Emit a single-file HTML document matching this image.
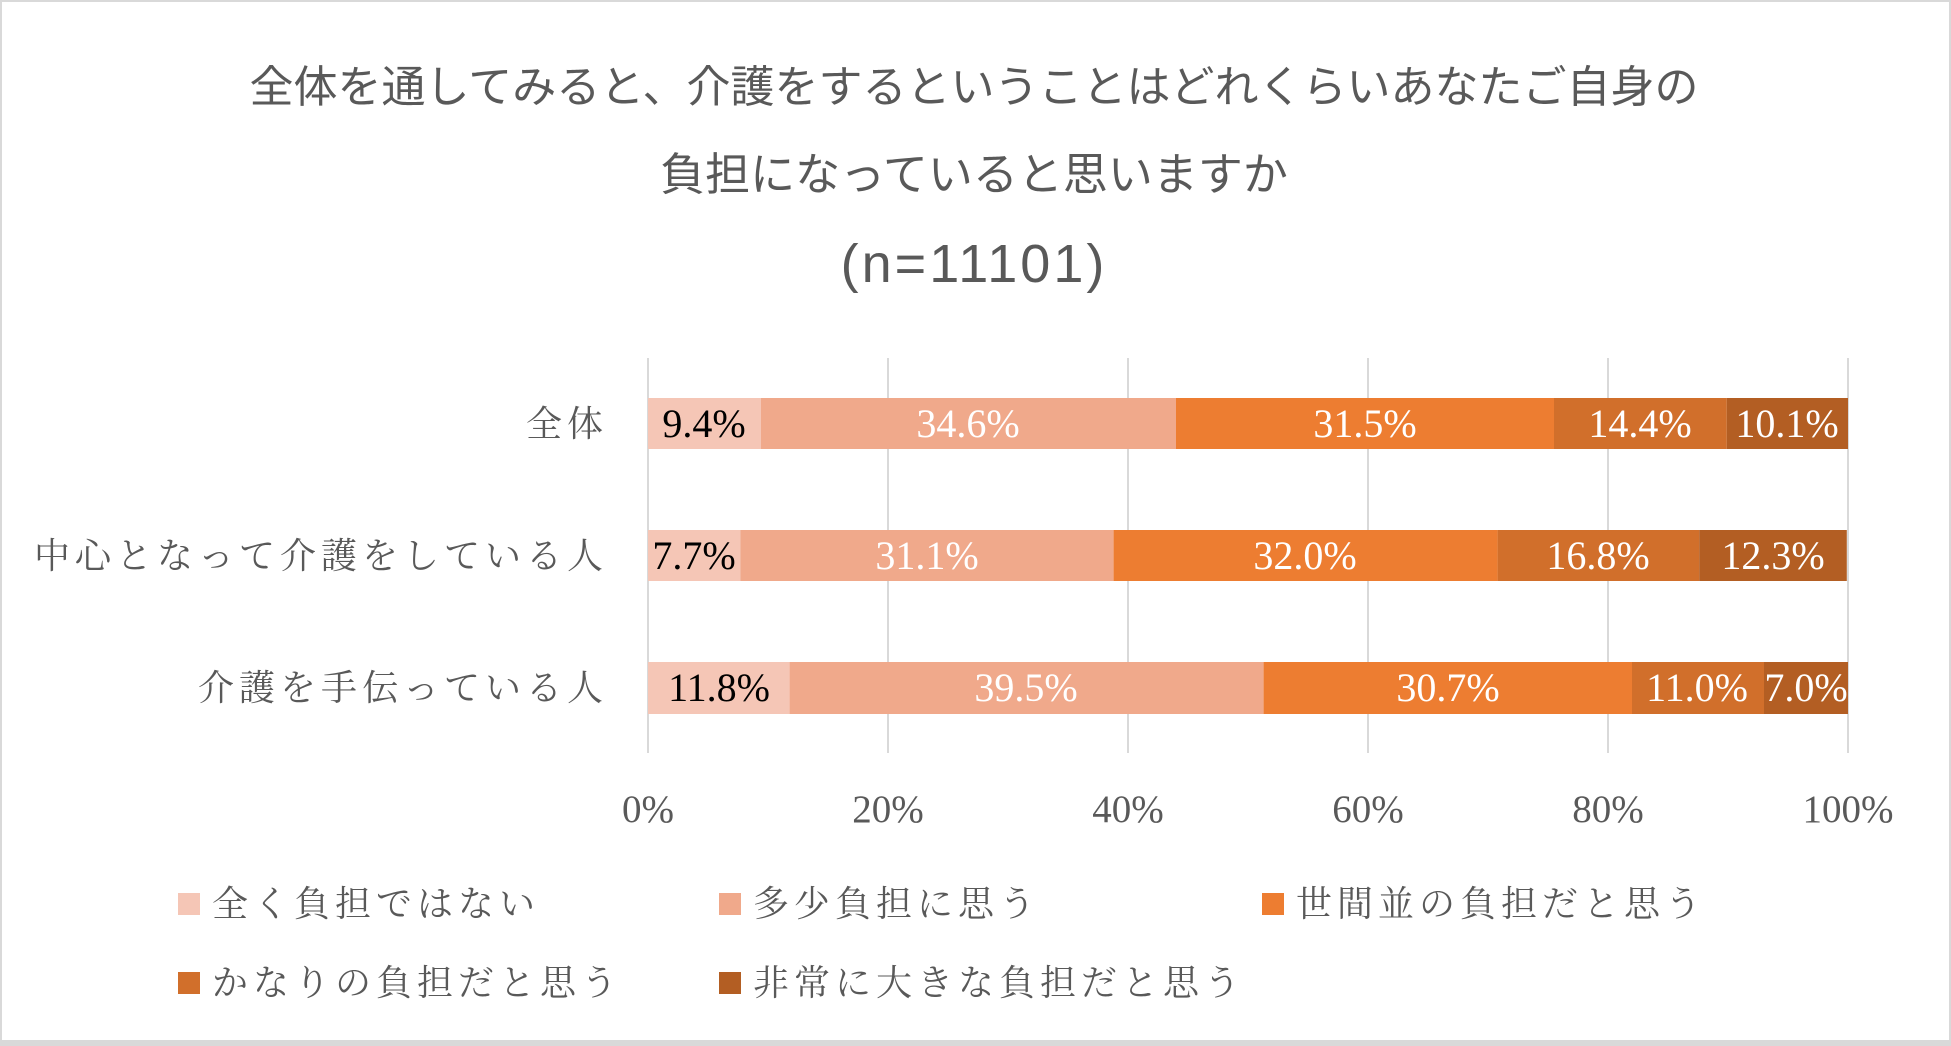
<!DOCTYPE html>
<html><head><meta charset="utf-8"><style>
html,body{margin:0;padding:0;background:#fff;}
svg{display:block;}
</style></head><body>
<svg width="1951" height="1046" xmlns="http://www.w3.org/2000/svg">
<rect x="0" y="0" width="1951" height="1046" fill="#d9d9d9"/>
<rect x="2" y="2" width="1947" height="1038" fill="#fff"/>
<g font-family="'Liberation Sans','Noto Sans CJK JP',sans-serif" fill="#595959" font-size="44" text-anchor="middle">
<text x="974" y="102">全体を通してみると、介護をするということはどれくらいあなたご自身の</text>
<text x="974" y="190" font-size="45">負担になっていると思いますか</text>
<text x="974" y="282" font-size="54" letter-spacing="3">(n=11101)</text>
</g>
<g stroke="#d9d9d9" stroke-width="2">
<line x1="648" y1="358" x2="648" y2="753"/>
<line x1="888" y1="358" x2="888" y2="753"/>
<line x1="1128" y1="358" x2="1128" y2="753"/>
<line x1="1368" y1="358" x2="1368" y2="753"/>
<line x1="1608" y1="358" x2="1608" y2="753"/>
<line x1="1848" y1="358" x2="1848" y2="753"/>
</g>
<g>
<rect x="648" y="398" width="112.8" height="51" fill="#F5C6B6"/>
<rect x="760.8" y="398" width="415.2" height="51" fill="#F0A98B"/>
<rect x="1176" y="398" width="378" height="51" fill="#ED7D31"/>
<rect x="1554" y="398" width="172.8" height="51" fill="#D16F2B"/>
<rect x="1726.8" y="398" width="121.2" height="51" fill="#B35E23"/>
<rect x="648" y="530" width="92.4" height="51" fill="#F5C6B6"/>
<rect x="740.4" y="530" width="373.2" height="51" fill="#F0A98B"/>
<rect x="1113.6" y="530" width="384" height="51" fill="#ED7D31"/>
<rect x="1497.6" y="530" width="201.6" height="51" fill="#D16F2B"/>
<rect x="1699.2" y="530" width="147.6" height="51" fill="#B35E23"/>
<rect x="648" y="662" width="141.6" height="52" fill="#F5C6B6"/>
<rect x="789.6" y="662" width="474" height="52" fill="#F0A98B"/>
<rect x="1263.6" y="662" width="368.4" height="52" fill="#ED7D31"/>
<rect x="1632" y="662" width="132" height="52" fill="#D16F2B"/>
<rect x="1764" y="662" width="84" height="52" fill="#B35E23"/>
</g>
<g font-family="'Liberation Serif',serif" font-size="40" text-anchor="middle" fill="#fff">
<text x="704" y="437" fill="#000">9.4%</text>
<text x="968" y="437">34.6%</text>
<text x="1365" y="437">31.5%</text>
<text x="1640" y="437">14.4%</text>
<text x="1787" y="437">10.1%</text>
<text x="694" y="569" fill="#000">7.7%</text>
<text x="927" y="569">31.1%</text>
<text x="1305" y="569">32.0%</text>
<text x="1598" y="569">16.8%</text>
<text x="1773" y="569">12.3%</text>
<text x="719" y="701" fill="#000">11.8%</text>
<text x="1026" y="701">39.5%</text>
<text x="1448" y="701">30.7%</text>
<text x="1697" y="701">11.0%</text>
<text x="1806" y="701">7.0%</text>
</g>
<g font-family="'Liberation Serif','Noto Serif CJK JP',serif" font-size="36" fill="#595959" text-anchor="end" letter-spacing="5">
<text x="608" y="436">全体</text>
<text x="608" y="568">中心となって介護をしている人</text>
<text x="608" y="700">介護を手伝っている人</text>
</g>
<g font-family="'Liberation Serif',serif" font-size="39" fill="#595959" text-anchor="middle">
<text x="648" y="822">0%</text>
<text x="888" y="822">20%</text>
<text x="1128" y="822">40%</text>
<text x="1368" y="822">60%</text>
<text x="1608" y="822">80%</text>
<text x="1848" y="822">100%</text>
</g>
<g font-family="'Liberation Serif','Noto Serif CJK JP',serif" font-size="36" fill="#595959" letter-spacing="5">
<rect x="178" y="893" width="22" height="22" fill="#F5C6B6"/>
<text x="212" y="916">全く負担ではない</text>
<rect x="719" y="893" width="22" height="22" fill="#F0A98B"/>
<text x="753" y="916">多少負担に思う</text>
<rect x="1262" y="893" width="22" height="22" fill="#ED7D31"/>
<text x="1296" y="916">世間並の負担だと思う</text>
<rect x="178" y="972" width="22" height="22" fill="#D16F2B"/>
<text x="212" y="995">かなりの負担だと思う</text>
<rect x="719" y="972" width="22" height="22" fill="#B35E23"/>
<text x="753" y="995">非常に大きな負担だと思う</text>
</g>
</svg>
</body></html>
